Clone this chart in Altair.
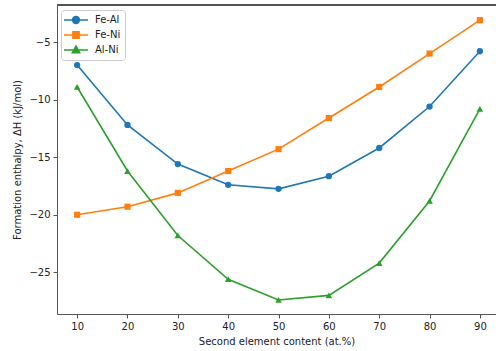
import altair as alt
import pandas as pd

x_values = [10, 20, 30, 40, 50, 60, 70, 80, 90]
series_names = ["Fe-Al", "Fe-Ni", "Al-Ni"]
fe_al = [-7.0, -12.2, -15.6, -17.4, -17.75, -16.65, -14.2, -10.6, -5.8]
fe_ni = [-20.0, -19.3, -18.1, -16.2, -14.3, -11.6, -8.9, -6.0, -3.1]
al_ni = [-8.9, -16.2, -21.8, -25.6, -27.4, -27.0, -24.2, -18.8, -10.8]
y_ticks = [-25, -20, -15, -10, -5]
colors = ["#1f77b4", "#ff7f0e", "#2ca02c"]
marker_shapes = ["circle", "square", "triangle-up"]
marker_sizes = [40, 38, 44]

# legend symbols: a line with the marker on it
legend_paths = [
    "M-2.4,0H-0.68A0.68,0.68,0,1,1,0.68,0A0.68,0.68,0,1,1,-0.68,0M0.68,0H2.4",
    "M-2.4,0H-0.62V-0.62H0.62V0.62H-0.62V0M0.62,0H2.4",
    "M-2.4,0H2.4M0,-0.75L0.72,0.55H-0.72Z",
]

rows = []
for name, vals in zip(series_names, [fe_al, fe_ni, al_ni]):
    for xv, yv in zip(x_values, vals):
        rows.append({"series": name, "x": xv, "y": yv})
df = pd.DataFrame(rows)

FONT = "DejaVu Sans"
W, H = 439, 309

x_enc = alt.X(
    "x:Q",
    scale=alt.Scale(domain=[6, 93.2], nice=False, zero=False),
    axis=alt.Axis(
        values=x_values, title="Second element content (at.%)", format="d",
        grid=False, domainColor="#555", tickColor="#555", tickSize=4,
        labelPadding=3, titlePadding=5, labelFontSize=10, titleFontSize=10,
        labelColor="#222", titleColor="#222", titleFontWeight="normal",
        labelFont=FONT, titleFont=FONT,
    ),
)
y_enc = alt.Y(
    "y:Q",
    scale=alt.Scale(domain=[-28.62, -1.78], nice=False, zero=False),
    axis=alt.Axis(
        values=y_ticks, title="Formation enthalpy, ΔH (kJ/mol)", format="d",
        grid=False, domainColor="#555", tickColor="#555", tickSize=4,
        labelPadding=3, titlePadding=6, labelFontSize=10, titleFontSize=10,
        labelColor="#222", titleColor="#222", titleFontWeight="normal",
        labelFont=FONT, titleFont=FONT,
    ),
)
color_scale = alt.Scale(domain=series_names, range=colors)

base = alt.Chart(df)

layers = []
for name, col, shp, sz in zip(series_names, colors, marker_shapes, marker_sizes):
    sub = base.transform_filter(alt.datum.series == name)
    layers.append(sub.mark_line(strokeWidth=1.6, color=col).encode(x=x_enc, y=y_enc))
for name, col, shp, sz in zip(series_names, colors, marker_shapes, marker_sizes):
    sub = base.transform_filter(alt.datum.series == name)
    layers.append(
        sub.mark_point(filled=True, shape=shp, size=sz, opacity=1, color=col)
        .encode(x=x_enc, y=y_enc)
    )

legend_layer = (
    base.transform_filter("false")
    .mark_point(filled=False, opacity=1, strokeWidth=1.6, size=100)
    .encode(
        x=x_enc, y=y_enc,
        color=alt.Color("series:N", scale=color_scale, legend=alt.Legend(title=None)),
        fill=alt.Fill("series:N", scale=color_scale, legend=alt.Legend(title=None)),
        shape=alt.Shape("series:N",
                        scale=alt.Scale(domain=series_names, range=legend_paths),
                        legend=alt.Legend(title=None)),
    )
)

top_spine = alt.Chart(df).mark_rule(color="#555", strokeWidth=1).encode(
    x=alt.value(0), x2=alt.value(W), y=alt.value(0)
)

chart = (
    alt.layer(*layers, legend_layer, top_spine)
    .properties(
        width=W, height=H,
        autosize=alt.AutoSizeParams(type="none"),
        padding={"left": 57, "top": 5, "right": 0, "bottom": 37},
        background="white",
    )
    .configure_view(stroke=None)
    .configure_legend(
        orient="none", legendX=4, legendY=5,
        padding=4, fillColor="white", strokeColor="#cccccc",
        cornerRadius=3, symbolSize=100, symbolStrokeWidth=1.6,
        symbolOffset=5, labelOffset=13, rowPadding=1,
        labelFontSize=10, labelFont=FONT, labelColor="#222",
        symbolOpacity=1,
    )
)

chart.save("out.html", embed_options={"renderer": "svg", "actions": False})
